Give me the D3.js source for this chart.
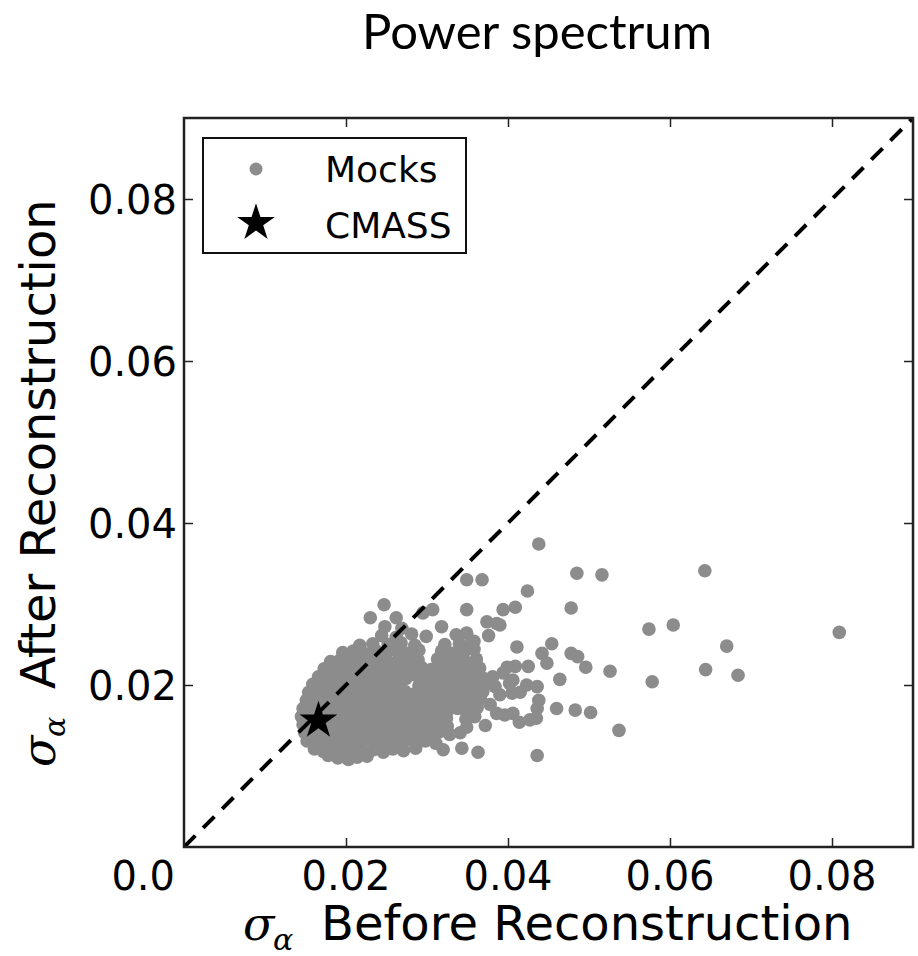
<!DOCTYPE html>
<html>
<head>
<meta charset="utf-8">
<script src="https://cdn.jsdelivr.net/npm/d3@7"></script>
<style>
  html, body { margin: 0; padding: 0; background: #fff; }
  svg { display: block; }
</style>
</head>
<body>
<svg id="chart" width="918" height="956"></svg>
<script>
// ---------------- data ----------------
const chartTitle = "Power spectrum";
const xLabel = "Before Reconstruction";
const yLabel = "After Reconstruction";
const xTicks = [0.02, 0.04, 0.06, 0.08];
const yTicks = [0.02, 0.04, 0.06, 0.08];
const xTickLabels = ["0.02", "0.04", "0.06", "0.08"];
const yTickLabels = ["0.02", "0.04", "0.06", "0.08"];
const cornerLabel = "0.0";
const legendLabels = ["Mocks", "CMASS"];
const cmass = [0.0166, 0.0156];

// sparse mocks (outliers) : [sigma before, sigma after]
const mockOutliers = [
  [0.0438,0.0374],[0.0485,0.0338],[0.0516,0.0336],[0.0643,0.0341],[0.0424,0.0316],
  [0.0409,0.0296],[0.0394,0.0293],[0.0478,0.0295],[0.0390,0.0274],[0.0574,0.0269],
  [0.0604,0.0274],[0.0809,0.0265],[0.0670,0.0248],[0.0411,0.0247],[0.0454,0.0251],
  [0.0442,0.0239],[0.0478,0.0239],[0.0486,0.0235],[0.0448,0.0227],[0.0496,0.0222],
  [0.0425,0.0223],[0.0409,0.0223],[0.0526,0.0217],[0.0644,0.0219],[0.0684,0.0212],
  [0.0464,0.0207],[0.0578,0.0204],[0.0394,0.0215],[0.0402,0.0202],[0.0423,0.0200],
  [0.0436,0.0198],[0.0415,0.0191],[0.0405,0.0190],[0.0438,0.0181],[0.0436,0.0171],
  [0.0435,0.0159],[0.0460,0.0171],[0.0483,0.0169],[0.0502,0.0166],[0.0537,0.0144],
  [0.0406,0.0165],[0.0396,0.0163],[0.0414,0.0154],[0.0436,0.0113],
  [0.0349,0.0330],[0.0368,0.0330],[0.0247,0.0299],[0.0230,0.0283],[0.0307,0.0293],
  [0.0295,0.0289],[0.0349,0.0293],[0.0248,0.0272],[0.0269,0.0270],[0.0318,0.0272],
  [0.0349,0.0264],[0.0374,0.0278],[0.0386,0.0276],[0.0320,0.0120],[0.0343,0.0122],
  [0.0363,0.0117],[0.0399,0.0222],[0.0406,0.0206],[0.0381,0.0210],[0.0390,0.0188],
  [0.0386,0.0165],[0.0427,0.0157],[0.0378,0.0176],[0.0384,0.0198],[0.0372,0.0150],
  [0.0262,0.0283],[0.0358,0.0254],[0.0376,0.0261],[0.0209,0.0241]
];

// dense mocks (main cloud)
const mockCloud = [
  [0.0178,0.0113],[0.0190,0.0110],[0.0203,0.0108],[0.0214,0.0111],[0.0226,0.0112],
  [0.0161,0.0121],[0.0172,0.0118],[0.0185,0.0120],[0.0196,0.0117],[0.0209,0.0121],
  [0.0221,0.0118],[0.0234,0.0120],[0.0246,0.0117],[0.0258,0.0121],[0.0271,0.0119],[0.0286,0.0122],
  [0.0152,0.0131],[0.0163,0.0128],[0.0176,0.0132],[0.0187,0.0129],[0.0199,0.0131],
  [0.0211,0.0128],[0.0223,0.0132],[0.0236,0.0129],[0.0248,0.0131],[0.0260,0.0128],
  [0.0273,0.0132],[0.0285,0.0129],[0.0298,0.0131],[0.0311,0.0128],
  [0.0149,0.0141],[0.0160,0.0138],[0.0172,0.0142],[0.0184,0.0139],[0.0195,0.0141],
  [0.0207,0.0138],[0.0219,0.0142],[0.0231,0.0139],[0.0243,0.0141],[0.0255,0.0138],
  [0.0267,0.0142],[0.0279,0.0139],[0.0291,0.0141],[0.0303,0.0138],[0.0315,0.0142],
  [0.0328,0.0139],[0.0341,0.0141],
  [0.0147,0.0151],[0.0158,0.0148],[0.0169,0.0152],[0.0181,0.0149],[0.0193,0.0151],
  [0.0205,0.0148],[0.0217,0.0152],[0.0229,0.0149],[0.0241,0.0151],[0.0253,0.0148],
  [0.0265,0.0152],[0.0277,0.0149],[0.0289,0.0151],[0.0301,0.0148],[0.0313,0.0152],
  [0.0325,0.0149],[0.0349,0.0148],
  [0.0145,0.0161],[0.0157,0.0158],[0.0168,0.0163],[0.0180,0.0159],[0.0192,0.0162],
  [0.0204,0.0158],[0.0215,0.0161],[0.0228,0.0159],[0.0240,0.0163],[0.0251,0.0158],
  [0.0263,0.0161],[0.0276,0.0159],[0.0288,0.0162],[0.0300,0.0158],[0.0312,0.0161],
  [0.0324,0.0159],[0.0348,0.0158],[0.0359,0.0161],
  [0.0147,0.0171],[0.0159,0.0168],[0.0171,0.0172],[0.0183,0.0169],[0.0194,0.0171],
  [0.0206,0.0168],[0.0218,0.0172],[0.0230,0.0169],[0.0242,0.0171],[0.0254,0.0168],
  [0.0266,0.0172],[0.0278,0.0169],[0.0290,0.0171],[0.0302,0.0168],[0.0314,0.0172],
  [0.0326,0.0169],[0.0338,0.0171],[0.0350,0.0168],[0.0362,0.0172],
  [0.0151,0.0181],[0.0163,0.0178],[0.0175,0.0182],[0.0186,0.0179],[0.0198,0.0181],
  [0.0210,0.0178],[0.0222,0.0182],[0.0234,0.0179],[0.0246,0.0181],[0.0258,0.0178],
  [0.0270,0.0182],[0.0282,0.0179],[0.0294,0.0181],[0.0306,0.0178],[0.0318,0.0182],
  [0.0330,0.0179],[0.0342,0.0181],[0.0354,0.0178],[0.0366,0.0183],
  [0.0154,0.0191],[0.0166,0.0188],[0.0178,0.0192],[0.0190,0.0189],[0.0202,0.0191],
  [0.0213,0.0188],[0.0225,0.0192],[0.0237,0.0189],[0.0249,0.0191],[0.0261,0.0188],
  [0.0273,0.0192],[0.0285,0.0189],[0.0297,0.0191],[0.0309,0.0188],[0.0321,0.0192],
  [0.0333,0.0189],[0.0345,0.0191],[0.0357,0.0188],[0.0369,0.0192],
  [0.0159,0.0201],[0.0170,0.0198],[0.0182,0.0202],[0.0194,0.0199],[0.0206,0.0201],
  [0.0218,0.0198],[0.0230,0.0202],[0.0242,0.0199],[0.0254,0.0201],[0.0266,0.0198],
  [0.0290,0.0199],[0.0302,0.0201],[0.0314,0.0198],[0.0326,0.0202],
  [0.0338,0.0199],[0.0350,0.0201],[0.0362,0.0198],[0.0372,0.0203],
  [0.0166,0.0210],[0.0178,0.0208],[0.0190,0.0212],[0.0202,0.0209],[0.0214,0.0211],
  [0.0226,0.0208],[0.0238,0.0212],[0.0250,0.0209],[0.0262,0.0211],[0.0274,0.0208],
  [0.0286,0.0212],[0.0298,0.0209],[0.0310,0.0211],[0.0322,0.0208],[0.0334,0.0212],
  [0.0346,0.0209],[0.0358,0.0211],[0.0370,0.0208],
  [0.0173,0.0220],[0.0185,0.0218],[0.0197,0.0222],[0.0209,0.0219],[0.0221,0.0221],
  [0.0233,0.0218],[0.0245,0.0222],[0.0257,0.0219],[0.0269,0.0221],[0.0281,0.0218],
  [0.0293,0.0222],[0.0305,0.0219],[0.0317,0.0221],[0.0329,0.0218],[0.0341,0.0222],
  [0.0353,0.0219],[0.0365,0.0221],
  [0.0181,0.0229],[0.0193,0.0231],[0.0205,0.0228],[0.0217,0.0232],[0.0229,0.0229],
  [0.0241,0.0231],[0.0253,0.0228],[0.0265,0.0232],[0.0277,0.0229],[0.0289,0.0231],
  [0.0313,0.0232],[0.0325,0.0229],[0.0337,0.0231],[0.0349,0.0228],
  [0.0361,0.0232],
  [0.0196,0.0240],[0.0209,0.0242],[0.0222,0.0239],[0.0236,0.0243],[0.0250,0.0240],
  [0.0263,0.0242],[0.0277,0.0239],[0.0290,0.0243],[0.0318,0.0242],
  [0.0332,0.0239],[0.0346,0.0241],[0.0358,0.0244],
  [0.0217,0.0249],[0.0233,0.0251],[0.0252,0.0250],[0.0268,0.0252],[0.0285,0.0249],
  [0.0322,0.0250],[0.0340,0.0251],[0.0355,0.0253],
  [0.0244,0.0261],[0.0262,0.0259],[0.0281,0.0263],[0.0299,0.0260],[0.0336,0.0262]
];

// ---------------- layout ----------------
const svg = d3.select("#chart");
const plot = { left: 184, top: 118, right: 913, bottom: 847 };
const x = d3.scaleLinear().domain([0, 0.09]).range([plot.left, plot.right]);
const y = d3.scaleLinear().domain([0, 0.09]).range([plot.bottom, plot.top]);
const dotColor = "#8c8c8c";
const tickFont = "DejaVu Sans, Verdana, sans-serif";

// title
svg.append("text")
  .attr("x", 537).attr("y", 49)
  .attr("text-anchor", "middle")
  .style("font-family", "Lato, 'Open Sans', sans-serif")
  .style("font-size", "49px")
  .attr("fill", "#000")
  .text(chartTitle);

// clip
svg.append("defs").append("clipPath").attr("id", "clip")
  .append("rect")
  .attr("x", plot.left).attr("y", plot.top)
  .attr("width", plot.right - plot.left).attr("height", plot.bottom - plot.top);

const gPlot = svg.append("g").attr("clip-path", "url(#clip)");

// mocks
const allMocks = mockCloud.concat(mockOutliers);
gPlot.append("g").selectAll("circle")
  .data(allMocks)
  .join("circle")
  .attr("cx", d => x(d[0]))
  .attr("cy", d => y(d[1]))
  .attr("r", 6.8)
  .attr("fill", dotColor);

// diagonal
gPlot.append("line")
  .attr("x1", x(0)).attr("y1", y(0))
  .attr("x2", x(0.09)).attr("y2", y(0.09))
  .attr("stroke", "#000")
  .attr("stroke-width", 4)
  .attr("stroke-dasharray", "16,11");

// CMASS star
const starPath = d3.symbol().type(d3.symbolStar).size(440)();
gPlot.append("path")
  .attr("d", starPath)
  .attr("transform", `translate(${x(cmass[0])},${y(cmass[1])})`)
  .attr("fill", "#000");

// axes (inward ticks on all sides)
const tickLen = 9;
const axStyle = g => {
  g.select(".domain").remove();
  g.selectAll(".tick line").attr("stroke", "#222").attr("stroke-width", 1.5);
  g.selectAll(".tick text").remove();
};
svg.append("g").attr("transform", `translate(0,${plot.bottom})`)
  .call(d3.axisTop(x).tickValues(xTicks).tickSize(tickLen)).call(axStyle);
svg.append("g").attr("transform", `translate(0,${plot.top})`)
  .call(d3.axisBottom(x).tickValues(xTicks).tickSize(tickLen)).call(axStyle);
svg.append("g").attr("transform", `translate(${plot.left},0)`)
  .call(d3.axisRight(y).tickValues(yTicks).tickSize(tickLen)).call(axStyle);
svg.append("g").attr("transform", `translate(${plot.right},0)`)
  .call(d3.axisLeft(y).tickValues(yTicks).tickSize(tickLen)).call(axStyle);

// frame
svg.append("rect")
  .attr("x", plot.left).attr("y", plot.top)
  .attr("width", plot.right - plot.left).attr("height", plot.bottom - plot.top)
  .attr("fill", "none").attr("stroke", "#222").attr("stroke-width", 2.5);

// tick labels
svg.append("g").selectAll("text")
  .data(xTicks)
  .join("text")
  .attr("x", d => x(d)).attr("y", 890)
  .attr("text-anchor", "middle")
  .style("font-family", tickFont).style("font-size", "40px")
  .text((d, i) => xTickLabels[i]);
svg.append("text")
  .attr("x", 175).attr("y", 890)
  .attr("text-anchor", "end")
  .style("font-family", tickFont).style("font-size", "40px")
  .text(cornerLabel);
svg.append("g").selectAll("text")
  .data(yTicks)
  .join("text")
  .attr("x", 177).attr("y", d => y(d) + 14.5)
  .attr("text-anchor", "end")
  .style("font-family", tickFont).style("font-size", "40px")
  .text((d, i) => yTickLabels[i]);

// axis titles with sigma_alpha
function axisTitle(g, label) {
  g.append("text").attr("x", 0).attr("y", 0)
    .style("font-family", "'DejaVu Serif', serif").style("font-style", "italic")
    .style("font-size", "46px").text("σ");
  g.append("text").attr("x", 30).attr("y", 10)
    .style("font-family", "'DejaVu Serif', serif").style("font-style", "italic")
    .style("font-size", "30px").text("α");
  g.append("text").attr("x", 78).attr("y", 0)
    .style("font-family", tickFont).style("font-size", "48px").text(label);
}
axisTitle(svg.append("g").attr("transform", "translate(243,940)"), xLabel);
axisTitle(svg.append("g").attr("transform", "translate(55,767) rotate(-90)"), yLabel);

// legend
const lg = svg.append("g");
lg.append("rect")
  .attr("x", 203).attr("y", 138).attr("width", 263).attr("height", 115)
  .attr("fill", "#fff").attr("stroke", "#111").attr("stroke-width", 2);
lg.append("circle").attr("cx", 256).attr("cy", 169).attr("r", 6.5).attr("fill", dotColor);
lg.append("path").attr("d", starPath).attr("transform", "translate(256,223)").attr("fill", "#000");
lg.selectAll("text.lab")
  .data(legendLabels)
  .join("text")
  .attr("class", "lab")
  .attr("x", 325).attr("y", (d, i) => 182 + i * 56)
  .style("font-family", tickFont).style("font-size", "36px")
  .text(d => d);
</script>
</body>
</html>
